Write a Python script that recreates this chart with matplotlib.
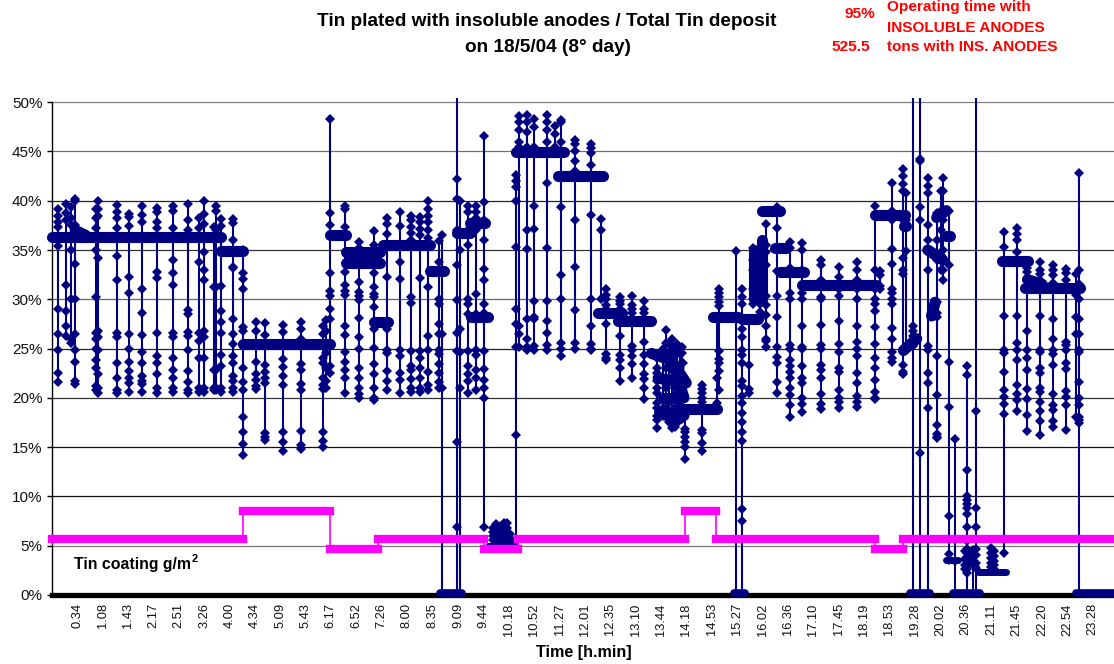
import matplotlib
matplotlib.use('Agg')
import matplotlib.pyplot as plt

plt.rcParams['font.family'] = ['Liberation Sans', 'DejaVu Sans']

NAVY = '#000080'
MAGENTA = '#FF00FF'
RED = '#FF0000'

tick_labels = ['0.34', '1.08', '1.43', '2.17', '2.51', '3.26', '4.00', '4.34', '5.09', '5.43', '6.17',
               '6.52', '7.26', '8.00', '8.35', '9.09', '9.44', '10.18', '10.52', '11.27', '12.01',
               '12.35', '13.10', '13.44', '14.18', '14.53', '15.27', '16.02', '16.36', '17.10',
               '17.45', '18.19', '18.53', '19.28', '20.02', '20.36', '21.11', '21.45', '22.20',
               '22.54', '23.28']
y_ticks = [0, 5, 10, 15, 20, 25, 30, 35, 40, 45, 50]
# the gridlines come out in different greys in the original
grid_colors = ['#111111', '#777777', '#111111', '#111111', '#333333', '#222222', '#666666', '#333333',
               '#222222', '#707070', '#808080']

# tin coating steps, minutes of the day
coating_start = [0, 258, 376, 441, 584, 630, 856, 898, 1113, 1151]
coating_end = [258, 376, 441, 584, 630, 856, 898, 1113, 1151, 1440]
coating_level = [5.65, 8.5, 4.6, 5.65, 4.6, 5.65, 8.5, 5.65, 4.6, 5.65]

# the dense runs of points, read as start, end and level at both ends
run_start = [0, 31, 229, 258, 376, 398, 398, 435, 448, 511, 548, 565, 567, 590, 628, 685, 739, 766,
             811, 838, 822, 820, 826, 838, 853, 894, 933, 950, 960, 961, 978, 985, 1015, 1113, 1153,
             1152, 1197, 1185, 1190, 1210, 1285, 1316, 1320, 1210, 1240, 1253]
run_end = [229, 45, 258, 376, 398, 443, 443, 455, 511, 530, 565, 585, 590, 628, 692, 746, 771, 811,
           838, 858, 855, 850, 850, 855, 900, 928, 955, 950, 960, 985, 993, 1018, 1115, 1154, 1156,
           1170, 1210, 1205, 1195, 1215, 1321, 1391, 1340, 1226, 1253, 1291]
run_from = [36.35, 37.0, 34.9, 25.5, 36.5, 34.8, 33.7, 27.7, 35.5, 32.9, 36.7, 37.7, 28.2, 5.0, 44.9,
            42.5, 28.6, 27.8, 24.5, 23.8, 18.6, 22.0, 20.0, 24.0, 18.9, 28.2, 28.0, 30.0, 30.0, 39.0,
            35.2, 32.8, 31.4, 38.6, 37.4, 24.8, 38.3, 35.0, 28.3, 36.4, 33.9, 31.1, 32.0, 3.5, 4.5, 2.35]
run_to = [36.35, 36.5, 34.9, 25.5, 36.5, 34.8, 33.7, 27.7, 35.5, 32.9, 36.7, 37.7, 28.2, 5.0, 44.9,
          42.5, 28.6, 27.8, 23.8, 21.5, 18.2, 21.5, 20.0, 20.0, 18.9, 28.2, 28.0, 35.0, 36.0, 39.0,
          35.2, 32.8, 31.4, 38.6, 37.4, 26.0, 39.0, 34.0, 29.7, 36.4, 33.9, 31.1, 31.5, 3.5, 2.4, 2.35]

# runs sitting on zero
zero_start = [525, 922, 1161, 1219, 1245, 1385]
zero_end = [554, 938, 1188, 1242, 1255, 1440]

# each drop or peak: its time and the points seen along it
spike_times = [8, 19, 25, 31, 59, 62, 87, 104, 122, 142, 164, 184, 198, 205, 219, 222, 229, 244, 258,
               276, 288, 312, 337, 366, 370, 376, 396, 415, 435,
               453, 470, 486, 498, 509, 524, 528, 548, 552, 563, 574, 584,
               597, 600, 607, 611, 615, 620,
               628, 632, 642, 652, 669, 680, 688, 708, 729, 743, 749,
               769, 785, 801, 818, 826, 831, 835, 839, 843, 846, 849, 852, 854, 856, 879, 899, 903, 925, 933,
               943, 949, 958, 966, 981, 998, 1015, 1040, 1065, 1089, 1113, 1120, 1137, 1152, 1155,
               1165, 1175, 1185, 1198, 1203, 1206, 1214, 1222, 1236, 1238, 1246, 1250, 1270, 1274,
               1288, 1306, 1319, 1337, 1355, 1372, 1385, 1390]
spike_values = [
    [39.2, 38.5, 37.8, 37.3, 35.4, 29.0, 26.5, 24.9, 22.5, 21.6],
    [39.7, 38.8, 38.0, 31.4, 28.8, 27.3, 26.3],
    [39.4, 38.2, 37.5, 35.0, 30.0, 26.0, 25.6],
    [40.2, 40.0, 37.5, 33.6, 30.0, 26.5, 24.8, 23.6, 21.7, 21.4],
    [39.2, 38.2, 37.2, 35.0, 30.2, 26.6, 26.0, 25.0, 23.8, 23.0, 21.2, 20.8],
    [40.0, 39.2, 38.5, 34.2, 26.8, 26.2, 24.8, 22.4, 21.0, 20.5],
    [39.6, 38.9, 38.2, 37.2, 34.4, 32.0, 26.6, 26.2, 23.5, 22.0, 20.8, 20.5],
    [38.7, 38.3, 37.4, 32.3, 30.6, 26.5, 25.0, 23.6, 22.7, 22.0, 21.5, 20.6],
    [39.5, 38.6, 37.8, 31.0, 28.6, 26.4, 24.6, 23.5, 22.2, 21.7, 21.4, 20.6],
    [39.3, 38.9, 37.8, 37.2, 32.8, 32.2, 26.6, 24.2, 23.5, 22.4, 21.0, 20.5],
    [39.5, 39.0, 37.2, 34.0, 32.7, 31.4, 26.6, 26.2, 24.0, 22.8, 22.0, 21.0, 20.6],
    [39.7, 38.0, 37.0, 28.9, 28.5, 26.7, 26.3, 24.8, 22.7, 21.6, 20.8, 20.5],
    [38.2, 37.2, 33.8, 26.6, 25.8, 24.0, 21.0, 20.6],
    [40.0, 38.7, 37.6, 34.8, 33.0, 32.0, 26.8, 26.2, 24.0, 21.0, 20.6],
    [37.3, 31.2, 22.8, 21.0, 20.8],
    [39.5, 39.0, 37.0, 31.2, 22.8, 21.0, 20.8],
    [38.1, 37.4, 31.3, 28.8, 27.7, 26.6, 24.3, 23.2, 21.0, 20.6],
    [38.1, 37.7, 36.0, 33.3, 33.2, 28.0, 26.5, 25.5, 24.2, 23.5, 22.2, 21.7, 21.0, 20.6],
    [35.0, 32.7, 32.1, 31.0, 27.2, 26.8, 25.5, 23.0, 21.6, 20.8, 18.0, 16.5, 15.3, 14.2],
    [27.7, 26.8, 23.6, 22.4, 21.8, 21.2, 20.9],
    [27.6, 26.4, 23.3, 22.6, 22.0, 21.5, 16.4, 16.0, 15.7],
    [27.4, 26.7, 23.9, 23.1, 22.2, 21.3, 16.5, 15.5, 14.6],
    [27.7, 27.0, 26.0, 23.4, 22.8, 21.4, 20.8, 16.6, 15.2, 14.8],
    [27.3, 26.5, 24.0, 23.5, 22.0, 21.3, 20.9, 16.5, 15.6, 15.0],
    [27.9, 26.8, 24.5, 23.0, 21.7, 21.0],
    [48.3, 38.8, 37.5, 32.7, 30.8, 30.3, 29.0, 28.0, 25.5, 23.2, 22.5],
    [39.5, 39.2, 37.3, 32.8, 31.4, 30.8, 30.4, 27.3, 26.4, 24.6, 23.6, 22.8, 22.0, 20.5],
    [35.8, 35.2, 31.8, 30.7, 30.3, 29.9, 28.1, 26.2, 25.0, 23.0, 22.0, 21.0, 20.4, 20.0],
    [36.9, 35.5, 32.7, 31.2, 30.5, 30.2, 29.2, 27.0, 25.1, 23.4, 22.4, 21.0, 20.0, 19.8],
    [38.2, 37.6, 36.6, 32.3, 27.0, 24.9, 24.5, 22.7, 21.7, 20.8],
    [38.9, 37.4, 33.8, 32.1, 24.8, 24.2, 22.5, 21.8, 20.5],
    [38.5, 38.0, 37.3, 36.7, 36.0, 30.2, 29.6, 24.7, 23.2, 22.8, 21.9, 21.0, 20.6],
    [38.4, 37.8, 37.1, 36.5, 32.2, 24.7, 24.0, 23.0, 22.0, 21.0, 20.6],
    [40.0, 39.2, 38.5, 37.8, 37.0, 36.2, 31.2, 26.3, 24.8, 22.6, 21.3, 20.8],
    [35.9, 33.8, 30.0, 29.5, 27.5, 26.5, 24.9, 24.4, 23.4, 22.5, 21.6, 21.0],
    [36.5, 32.9, 26.5, 21.0, 0.0],
    [51.0, 42.2, 40.2, 37.0, 33.5, 29.9, 26.6, 24.7, 15.5, 6.9, 0.0],
    [40.0, 35.0, 27.0, 24.6, 21.0, 0.0],
    [39.5, 38.9, 37.0, 35.5, 30.0, 29.5, 28.5, 24.7, 23.2, 22.4, 21.7, 20.5],
    [39.5, 38.9, 38.2, 37.0, 30.5, 28.5, 24.8, 24.3, 22.8, 22.0, 20.8],
    [46.6, 39.9, 38.0, 36.0, 33.1, 32.0, 29.5, 28.6, 24.7, 22.9, 21.8, 21.0, 20.0, 6.9],
    [6.8, 6.4, 6.0, 5.6],
    [7.2, 6.8, 6.4, 6.0, 5.7, 5.3],
    [7.0, 6.5, 6.0, 5.5],
    [7.3, 6.9, 6.5, 6.1, 5.7, 5.3],
    [7.3, 6.8, 6.4, 6.0, 5.6],
    [6.2, 5.8, 5.4],
    [42.6, 42.0, 41.4, 40.0, 35.3, 29.0, 27.5, 25.2, 16.2, 5.5],
    [48.6, 48.0, 47.2, 46.0, 45.5, 45.0, 27.3, 26.5, 25.2],
    [48.7, 48.0, 47.0, 45.5, 37.0, 35.1, 28.0, 26.0, 25.2, 24.9],
    [48.3, 47.5, 45.5, 39.5, 37.1, 29.8, 28.2, 28.0, 25.3, 24.9],
    [48.7, 48.0, 47.2, 46.0, 41.8, 35.2, 29.8, 27.8, 26.6, 25.4, 24.9],
    [47.6, 46.8, 45.5],
    [48.2, 48.0, 46.0, 39.4, 32.5, 30.0, 25.6, 25.0, 24.2],
    [46.2, 45.8, 45.0, 44.0, 43.0, 38.0, 33.3, 28.9, 25.6, 25.0],
    [45.8, 45.4, 44.8, 43.6, 38.6, 30.0, 27.3, 25.5, 25.0, 24.9],
    [38.1, 37.0, 30.0],
    [31.0, 30.4, 30.0, 29.4, 29.0, 27.5, 24.4, 24.0, 23.8],
    [30.2, 29.8, 29.5, 29.0, 28.0, 26.3, 24.3, 23.8, 23.0, 21.7],
    [30.3, 29.4, 29.0, 28.6, 25.3, 24.8, 24.2, 23.4, 22.0],
    [29.8, 29.0, 28.6, 28.0, 25.7, 24.3, 23.4, 22.4, 21.9, 21.0, 19.9],
    [24.0, 23.0, 22.5, 21.7, 21.0, 20.5, 19.5, 19.0, 18.2, 17.7, 16.9],
    [25.0, 24.2, 22.0, 20.0, 19.0, 18.2],
    [26.9, 25.6, 24.5, 23.0, 21.0, 19.0, 18.0],
    [25.5, 24.5, 22.0, 19.5, 18.3, 17.5],
    [26.0, 25.0, 23.0, 20.0, 18.5, 17.2, 16.9],
    [25.0, 23.5, 21.0, 19.0, 17.8, 17.0],
    [25.5, 24.4, 22.5, 20.5, 18.5, 17.4],
    [25.0, 23.0, 21.0, 19.2, 18.0],
    [25.2, 24.5, 22.0, 20.0, 18.4, 17.8],
    [23.5, 22.0, 20.5, 19.0, 18.2],
    [18.9, 16.8, 16.5, 16.0, 15.5, 15.0, 13.8],
    [21.3, 20.9, 20.5, 20.0, 19.6, 16.7, 16.4, 15.4, 14.6],
    [28.0, 22.0, 19.5],
    [31.0, 30.6, 30.2, 29.7, 29.3, 24.7, 23.9, 23.5, 22.7, 20.8],
    [34.9, 0.0],
    [31.0, 30.2, 29.5, 27.0, 26.2, 24.8, 24.3, 23.5, 21.7, 21.2, 20.2, 19.5, 18.5, 17.5, 16.5, 15.6, 8.7, 7.5, 0.0],
    [28.0, 23.3, 20.9, 20.5],
    [35.2, 34.0, 33.0, 31.0, 30.0, 29.5],
    [35.0, 33.0, 31.0, 29.5, 28.7, 28.0],
    [37.6, 35.5, 34.8, 33.5, 30.3, 29.4, 28.4, 27.3, 26.0, 25.8, 25.2],
    [39.4, 38.8, 37.2, 35.0, 32.9, 30.3, 28.2, 25.2, 24.1, 23.5, 21.6, 20.5],
    [35.8, 35.2, 33.2, 30.6, 30.0, 25.4, 25.0, 23.8, 23.2, 22.6, 22.0, 21.0, 20.3, 19.3, 18.0],
    [35.7, 35.0, 33.0, 31.3, 30.6, 30.0, 27.3, 25.2, 25.0, 23.2, 22.0, 21.5, 20.0, 19.4, 18.6],
    [34.0, 33.5, 32.0, 31.2, 30.2, 30.0, 27.4, 25.4, 25.0, 23.3, 22.8, 22.0, 20.4, 19.4, 18.9],
    [33.3, 32.3, 31.7, 31.0, 30.3, 27.8, 25.5, 24.6, 23.0, 22.6, 20.8, 20.0, 19.6, 19.0],
    [33.8, 33.0, 32.0, 31.0, 30.0, 27.3, 25.7, 25.0, 24.2, 22.5, 21.5, 20.2, 19.6, 19.1],
    [39.5, 38.5, 33.0, 31.0, 30.0, 29.5, 28.8, 27.2, 25.5, 24.0, 23.0, 21.8, 20.6, 20.0, 19.9],
    [32.9, 32.5, 31.3, 31.0],
    [41.8, 39.0, 38.0, 35.1, 33.6, 31.0, 30.6, 30.0, 29.5, 27.1, 26.0, 24.6, 24.0, 23.6],
    [43.2, 42.5, 41.7, 41.0, 38.0, 34.2, 33.0, 32.6, 24.8, 23.3, 22.6, 22.4],
    [40.8, 38.0, 34.9, 25.0],
    [51.0, 27.3, 26.8, 26.3, 25.8, 25.3, 0.0],
    [51.0, 44.2, 44.0, 39.4, 38.0, 14.4, 0.0],
    [42.3, 41.5, 40.8, 37.5, 36.0, 35.0, 33.0, 25.3, 24.9, 22.5, 21.5, 19.0, 0.0],
    [38.8, 36.0, 34.0, 29.7, 28.6, 28.2, 24.2, 20.3, 17.2, 16.3, 16.0, 15.9],
    [41.0, 39.0, 37.0, 34.5, 33.0],
    [42.3, 41.0, 38.0, 35.0, 33.0, 32.0],
    [39.0, 36.4, 33.5, 23.6, 19.1, 8.0, 4.1, 3.5],
    [15.8, 3.4, 0.0],
    [4.4, 3.6, 3.0, 2.6],
    [23.2, 22.3, 12.7, 10.0, 9.6, 9.2, 8.8, 8.2, 6.9, 5.5, 4.6, 4.2, 3.8, 3.4, 3.0, 2.6, 2.2, 0.0],
    [4.5, 3.0, 0.0],
    [51.0, 18.7, 8.8, 6.9, 4.6, 4.0, 3.2, 0.0],
    [4.7, 4.2, 3.7, 3.2, 2.8, 2.4],
    [4.4, 3.9, 3.4, 3.0, 2.6],
    [36.8, 35.3, 28.3, 24.8, 24.5, 22.6, 20.8, 20.1, 19.4, 18.4, 4.2],
    [37.2, 36.6, 36.0, 34.8, 28.3, 25.6, 24.8, 23.8, 21.3, 20.4, 19.8, 18.7],
    [33.2, 32.8, 32.0, 31.0, 26.8, 24.8, 24.0, 22.8, 20.9, 19.9, 18.3, 16.6],
    [33.8, 33.0, 32.6, 32.0, 28.3, 24.9, 24.6, 23.0, 22.5, 21.0, 20.6, 19.6, 18.7, 17.6, 16.2],
    [33.5, 33.0, 32.5, 31.7, 28.0, 26.0, 24.8, 24.4, 23.3, 20.4, 19.3, 18.8, 17.6, 17.0],
    [33.1, 32.7, 32.0, 25.7, 25.4, 24.8, 23.5, 22.9, 20.7, 20.1, 19.3, 16.7],
    [32.6, 30.4, 28.2, 26.5, 18.0],
    [42.8, 33.0, 31.5, 30.0, 28.0, 26.5, 24.8, 24.6, 21.6, 20.0, 19.3, 18.0, 17.7, 17.4, 0.0],
]

fig = plt.figure(figsize=(11.14, 6.64), dpi=100)
ax = fig.add_axes([52.3 / 1114, (664 - 594.8) / 664, (1114 - 52.3) / 1114, (594.8 - 98.3) / 664])

ax.set_xlim(0, 1437)
ax.set_ylim(0, 50.4)

for lev, col in zip(y_ticks[1:], grid_colors[1:]):
    ax.axhline(lev, color=col, lw=0.9, zorder=1)

# spikes first, thick runs over them, coating on top of everything
for t, vals in zip(spike_times, spike_values):
    ax.plot([t] * len(vals), vals, color=NAVY, lw=1.5, marker='D', ms=4.7, mew=0, zorder=4)
for t0, t1, v0, v1 in zip(run_start, run_end, run_from, run_to):
    # the low runs are thinner than the main plateaus
    ax.plot([t0, t1], [v0, v1], color=NAVY, lw=5 if max(v0, v1) < 6 else 8,
            solid_capstyle='round', zorder=4, clip_on=False)
for t0, t1 in zip(zero_start, zero_end):
    ax.plot([t0, t1], [0.2, 0.2], color=NAVY, lw=5.5, solid_capstyle='round', zorder=5, clip_on=False)

for i, (t0, t1, lev) in enumerate(zip(coating_start, coating_end, coating_level)):
    ax.plot([t0, t1], [lev, lev], color=MAGENTA, lw=6, solid_capstyle='projecting', zorder=6, clip_on=False)
    if i > 0:
        ax.plot([t0, t0], [coating_level[i - 1], lev], color=MAGENTA, lw=1.2, zorder=6)

for side in ['top', 'right']:
    ax.spines[side].set_visible(False)
ax.spines['left'].set_bounds(0, 50)
ax.spines['left'].set_linewidth(1)
ax.spines['bottom'].set_linewidth(3.8)
ax.spines['bottom'].set_zorder(3)

ax.set_yticks(y_ticks)
ax.set_yticklabels([f'{v}%' for v in y_ticks], fontsize=11, color='#111111')
ax.tick_params(axis='y', length=3.6, width=1, pad=3.5)

tick_pos = [int(s.split('.')[0]) * 60 + int(s.split('.')[1]) for s in tick_labels]
ax.set_xticks(tick_pos)
ax.set_xticklabels(tick_labels, rotation=90, fontsize=9.3, color='#111111')
ax.tick_params(axis='x', length=0, pad=6)

fig.text(584 / 1114, 1 - 652 / 664, 'Time [h.min]', fontsize=11.6, fontweight='bold', ha='center', va='center')
fig.text(74 / 1114, 1 - 564 / 664, 'Tin coating g/m', fontsize=11.4, fontweight='bold', va='center')
fig.text(192 / 1114, 1 - 559 / 664, '2', fontsize=8, fontweight='bold', va='center')

fig.text(547 / 1114, 1 - 22 / 664, 'Tin plated with insoluble anodes / Total Tin deposit', fontsize=13.7,
         fontweight='bold', ha='center', va='center')
fig.text(548 / 1114, 1 - 47 / 664, 'on 18/5/04 (8° day)', fontsize=13.7, fontweight='bold', ha='center', va='center')

fig.text(875 / 1114, 1 - 14 / 664, '95%', fontsize=11.1, fontweight='bold', color=RED, ha='right', va='center')
fig.text(870 / 1114, 1 - 47 / 664, '525.5', fontsize=11.1, fontweight='bold', color=RED, ha='right', va='center')
fig.text(887 / 1114, 1 - 7 / 664, 'Operating time with', fontsize=11.1, fontweight='bold', color=RED, va='center')
fig.text(887 / 1114, 1 - 28 / 664, 'INSOLUBLE ANODES', fontsize=11.1, fontweight='bold', color=RED, va='center')
fig.text(887 / 1114, 1 - 47 / 664, 'tons with INS. ANODES', fontsize=11.1, fontweight='bold', color=RED, va='center')

fig.savefig('out.png', dpi=100)
plt.close(fig)
